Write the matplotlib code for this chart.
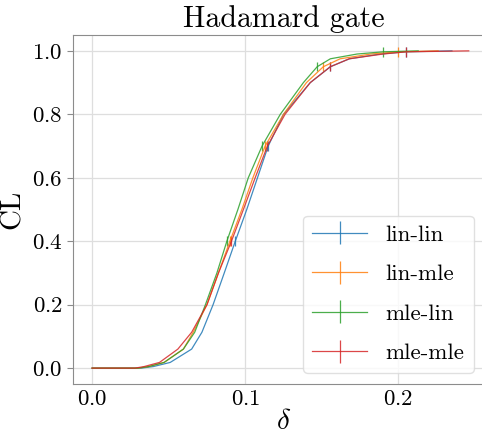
import numpy as np
import matplotlib
matplotlib.use("Agg")
import matplotlib.pyplot as plt

plt.rcParams['font.family'] = 'serif'
plt.rcParams['font.serif'] = ['cmr10']
plt.rcParams['mathtext.fontset'] = 'cm'
plt.rcParams['axes.formatter.use_mathtext'] = True

# CL levels and the delta at which each curve reaches them
cl = [0.0, 0.0, 0.005, 0.018, 0.06, 0.113, 0.2, 0.3, 0.4, 0.5, 0.6, 0.7,
      0.8, 0.9, 0.95, 0.975, 0.99, 0.997, 1.0]
delta_lin_lin = [0.0, 0.032, 0.040, 0.051, 0.065, 0.0717, 0.079, 0.0863, 0.0935,
                 0.101, 0.108, 0.115, 0.125, 0.1425, 0.1556, 0.168, 0.188, 0.205, 0.235]
delta_lin_mle = [0.0, 0.030, 0.037, 0.047, 0.0596, 0.066, 0.075, 0.0825, 0.090,
                 0.0978, 0.105, 0.113, 0.125, 0.140, 0.151, 0.162, 0.182, 0.200, 0.226]
delta_mle_lin = [0.0, 0.030, 0.037, 0.047, 0.0596, 0.067, 0.074, 0.0815, 0.088,
                 0.0952, 0.102, 0.111, 0.1229, 0.138, 0.147, 0.1556, 0.173, 0.190, 0.213]
delta_mle_mle = [0.0, 0.028, 0.034, 0.044, 0.056, 0.065, 0.075, 0.0825, 0.091,
                 0.0988, 0.1065, 0.1145, 0.126, 0.1425, 0.1556, 0.168, 0.190, 0.205, 0.246]
cl_err = 0.015

series = [("lin-lin", delta_lin_lin, "tab:blue"),
          ("lin-mle", delta_lin_mle, "tab:orange"),
          ("mle-lin", delta_mle_lin, "tab:green"),
          ("mle-mle", delta_mle_mle, "tab:red")]

fig = plt.figure(figsize=(4.82, 4.34), dpi=100)
ax = fig.add_axes([73 / 482, 50 / 434, 421 / 482, 349 / 434])

for label, d, c in series:
    ax.errorbar(d, cl, yerr=cl_err, color=c, lw=0.9, elinewidth=0.9, alpha=0.85,
                errorevery=(8, 3), label=label)

ax.set_xlim(-0.0125, 0.2625)
ax.set_ylim(-0.05, 1.05)
ax.set_xticks([0.0, 0.1, 0.2])
ax.set_yticks([0.0, 0.2, 0.4, 0.6, 0.8, 1.0])
ax.grid(True, color='0.87', lw=0.9)
ax.set_axisbelow(True)
for s in ax.spines.values():
    s.set_color('0.55')
ax.tick_params(colors='0.55', labelcolor='black', labelsize=16.5, length=4)
ax.tick_params(axis='x', length=0, pad=4)

ax.set_title("Hadamard gate", fontsize=21.5)
ax.set_xlabel(r"$\delta$", fontsize=21, labelpad=0)
ax.set_ylabel("CL", fontsize=21, labelpad=4)

leg = ax.legend(loc='lower right', bbox_to_anchor=(0.979, 0.0), fontsize=16.5,
                handlelength=2.4, labelspacing=0.85, framealpha=0.8,
                edgecolor='0.85', fancybox=True)

fig.savefig("out.png", dpi=100)
